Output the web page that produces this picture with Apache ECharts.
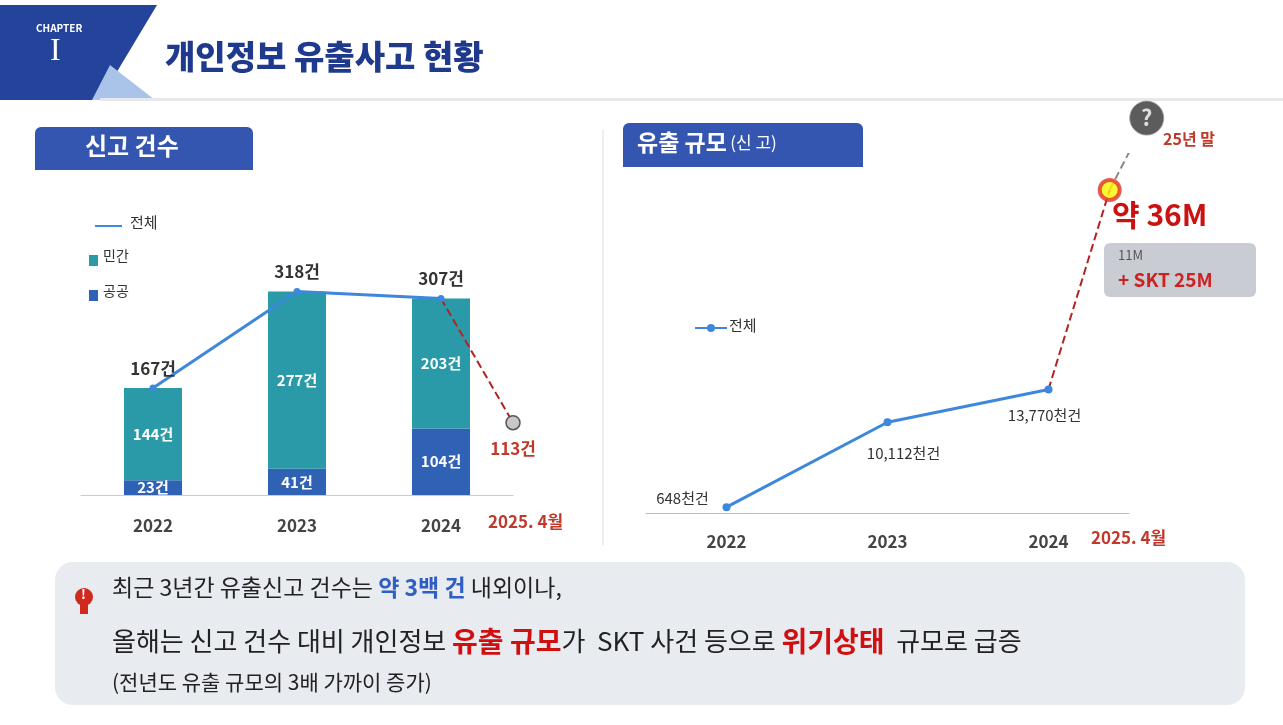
<!DOCTYPE html>
<html>
<head>
<meta charset="utf-8">
<title>개인정보 유출사고 현황</title>
<script src="https://cdn.jsdelivr.net/npm/echarts@6/dist/echarts.min.js"></script>
</head>
<body style="margin:0;padding:0;background:#fff;">
<div id="main" style="width:1283px;height:725px;"></div>
<script type="text/javascript">
// 신고 건수
var years = ['2022', '2023', '2024'];
var privateCnt = [144, 277, 203];   // 민간
var publicCnt = [23, 41, 104];      // 공공
var totalCnt = [167, 318, 307];     // 전체
var cnt2025 = 113;                  // 2025. 4월
// 유출 규모 (천건)
var leakSize = [648, 10112, 13770];
var leakLabels = ['648천건', '10,112천건', '13,770천건'];
var leak2025 = 36000;               // 약 36M
var leakEnd = 44000;                // 25년 말 (?)

var F = '"Noto Sans CJK KR", sans-serif';
var chart = echarts.init(document.getElementById('main'));

var option = {
    backgroundColor: '#fff',
    textStyle: { fontFamily: F },
    grid: [
        { left: 81, width: 432, top: 95, bottom: 230 },   // 왼쪽
        { left: 646, width: 483, top: 154, bottom: 212 }  // 오른쪽
    ],
    xAxis: [
        { type: 'category', data: years, gridIndex: 0,
          axisLine: { lineStyle: { color: '#ccc' } }, axisTick: { show: false },
          axisLabel: { color: '#444', fontSize: 17, fontWeight: 'bold', margin: 22, fontFamily: F } },
        { type: 'value', min: 0, max: 3, gridIndex: 0, show: false },
        { type: 'category', data: years, gridIndex: 1,
          axisLine: { lineStyle: { color: '#bbb' } }, axisTick: { show: false },
          axisLabel: { color: '#444', fontSize: 17, fontWeight: 'bold', margin: 20, fontFamily: F } },
        { type: 'value', min: 0, max: 3, gridIndex: 1, show: false }
    ],
    yAxis: [
        { type: 'value', min: 0, max: 625, gridIndex: 0, show: false },
        { type: 'value', min: 0, max: 40000, gridIndex: 1, show: false }
    ],
    series: [
        { name: '공공', type: 'bar', stack: 'a', data: publicCnt, barWidth: 58,
          itemStyle: { color: '#2f62b5' },
          label: { show: true, color: '#fff', fontSize: 15, fontWeight: 'bold', formatter: '{c}건' } },
        { name: '민간', type: 'bar', stack: 'a', data: privateCnt, barWidth: 58,
          itemStyle: { color: '#2a9aa9' },
          label: { show: true, color: '#fff', fontSize: 15, fontWeight: 'bold', formatter: '{c}건' } },
        { name: '전체', type: 'line', data: totalCnt, symbol: 'circle', symbolSize: 7,
          lineStyle: { color: '#3d88dc', width: 3 }, itemStyle: { color: '#3d88dc' },
          label: { show: true, position: 'top', distance: 8, color: '#333', fontSize: 17, fontWeight: 'bold', formatter: '{c}건' },
          z: 5 },
        { type: 'line', xAxisIndex: 1, data: [[2.5, totalCnt[2]], [3, cnt2025]], clip: false,
          symbol: 'circle', showSymbol: true,
          symbolSize: function (v, p) { return p.dataIndex === 1 ? 14 : 0; },
          lineStyle: { color: '#b22222', width: 2, type: 'dashed' },
          itemStyle: { color: '#c8c8c8', borderColor: '#555', borderWidth: 1.5 },
          label: { show: true, position: 'bottom', distance: 10, color: '#c0392b', fontSize: 17, fontWeight: 'bold',
                   formatter: function (p) { return p.dataIndex === 1 ? cnt2025 + '건' : ''; } },
          z: 4 },
        { name: '유출', type: 'line', xAxisIndex: 2, yAxisIndex: 1, data: leakSize,
          symbol: 'circle', symbolSize: 8,
          lineStyle: { color: '#3d88dc', width: 3 }, itemStyle: { color: '#3d88dc' },
          label: { show: true, color: '#333', fontSize: 15,
                   formatter: function (p) { return leakLabels[p.dataIndex]; } },
          labelLayout: function (p) {
              var off = [[-40, -12], [20, 28], [0, 22]][p.dataIndex];
              return { x: p.rect.x + off[0], y: p.rect.y + off[1], align: 'center' };
          } },
        { type: 'line', xAxisIndex: 3, yAxisIndex: 1, clip: false,
          data: [[2.5, leakSize[2]], [2.88, leak2025]], symbol: 'none',
          lineStyle: { color: '#b22222', width: 2, type: 'dashed' } },
        { type: 'line', xAxisIndex: 3, yAxisIndex: 1, clip: false,
          data: [[2.88, leak2025], [3.11, leakEnd]], symbol: 'none',
          lineStyle: { color: '#888', width: 2, type: 'dashed' } },
        { type: 'scatter', xAxisIndex: 3, yAxisIndex: 1, clip: false,
          data: [[2.88, leak2025]], symbolSize: 20,
          itemStyle: { color: '#fff200', borderColor: '#e0302a', borderWidth: 4 }, z: 10 },
        { type: 'scatter', xAxisIndex: 3, yAxisIndex: 1, clip: false,
          data: [[3.11, leakEnd]], symbolSize: 34,
          itemStyle: { color: '#333', borderColor: '#999', borderWidth: 1 },
          label: { show: true, position: 'inside', formatter: '?', color: '#fff', fontSize: 22, fontWeight: 'bold' }, z: 10 }
    ],
    graphic: [
        // 헤더
        { type: 'polygon', shape: { points: [[0, 5], [157, 5], [100, 100], [0, 100]] }, style: { fill: '#24439a' } },
        { type: 'polygon', shape: { points: [[110, 65], [155, 100], [92, 100]] }, style: { fill: '#a9c4e8' } },
        { type: 'text', left: 36, top: 23, style: { text: 'CHAPTER', fill: '#fff', font: 'bold 10px ' + F } },
        { type: 'text', left: 50, top: 36, style: { text: 'I', fill: '#fff', font: '32px serif' } },
        { type: 'text', left: 165, top: 40, style: { text: '개인정보 유출사고 현황', fill: '#1f3a8c', font: '900 33px ' + F } },
        { type: 'rect', shape: { x: 100, y: 98, width: 1183, height: 3 }, style: { fill: '#e6e8ec' } },
        // 섹션 탭
        { type: 'rect', shape: { x: 35, y: 127, width: 218, height: 43, r: [6, 6, 0, 0] }, style: { fill: '#3556b0' } },
        { type: 'text', left: 85, top: 134, style: { text: '신고 건수', fill: '#fff', font: 'bold 24px ' + F } },
        { type: 'rect', shape: { x: 623, y: 123, width: 240, height: 44, r: [6, 6, 0, 0] }, style: { fill: '#3556b0' } },
        { type: 'text', left: 637, top: 131, style: { rich: { a: { fill: '#fff', font: 'bold 23px ' + F }, b: { fill: '#fff', font: '17px ' + F } }, text: '{a|유출 규모} {b|(신 고)}' } },
        { type: 'rect', shape: { x: 602, y: 130, width: 2, height: 415 }, style: { fill: '#eceef1' } },
        // 왼쪽 범례
        { type: 'line', shape: { x1: 95, y1: 226, x2: 122, y2: 226 }, style: { stroke: '#3d88dc', lineWidth: 2 } },
        { type: 'text', left: 130, top: 215, style: { text: '전체', fill: '#333', font: '15px ' + F } },
        { type: 'rect', shape: { x: 89, y: 255, width: 9, height: 11 }, style: { fill: '#2a9aa9' } },
        { type: 'text', left: 103, top: 249, style: { text: '민간', fill: '#333', font: '14px ' + F } },
        { type: 'rect', shape: { x: 89, y: 290, width: 9, height: 11 }, style: { fill: '#2f62b5' } },
        { type: 'text', left: 103, top: 284, style: { text: '공공', fill: '#333', font: '14px ' + F } },
        { type: 'text', left: 488, top: 513, style: { text: '2025. 4월', fill: '#c0392b', font: 'bold 17px ' + F } },
        // 오른쪽
        { type: 'line', shape: { x1: 695, y1: 328, x2: 727, y2: 328 }, style: { stroke: '#3d88dc', lineWidth: 2 } },
        { type: 'circle', shape: { cx: 711, cy: 328, r: 4 }, style: { fill: '#3d88dc' } },
        { type: 'text', left: 729, top: 318, style: { text: '전체', fill: '#333', font: '15px ' + F } },
        { type: 'text', left: 1091, top: 529, style: { text: '2025. 4월', fill: '#c0392b', font: 'bold 17px ' + F } },
        { type: 'text', left: 1163, top: 131, style: { text: '25년 말', fill: '#c0392b', font: 'bold 16px ' + F } },
        { type: 'text', left: 1112, top: 200, style: { text: '약 36M', fill: '#cc1111', font: 'bold 30px ' + F } },
        { type: 'rect', shape: { x: 1104, y: 243, width: 152, height: 54, r: 6 }, style: { fill: '#c9ccd2' } },
        { type: 'text', left: 1118, top: 249, style: { text: '11M', fill: '#555', font: '13px ' + F } },
        { type: 'text', left: 1118, top: 270, style: { text: '+ SKT 25M', fill: '#cc2222', font: 'bold 19px ' + F } },
        // 하단 박스
        { type: 'rect', shape: { x: 55, y: 562, width: 1190, height: 143, r: 18 }, style: { fill: '#e8ebef' } },
        { type: 'circle', shape: { cx: 84, cy: 597, r: 9 }, style: { fill: '#d02a1e' } },
        { type: 'rect', shape: { x: 80, y: 605, width: 8, height: 9 }, style: { fill: '#d02a1e' } },
        { type: 'text', left: 81, top: 588, style: { text: '!', fill: '#fff', font: 'bold 13px ' + F } },
        { type: 'text', left: 112, top: 576, style: { rich: {
            n: { fill: '#222', font: '23px ' + F }, b: { fill: '#2f5fc4', font: 'bold 23px ' + F } },
            text: '{n|최근 3년간 유출신고 건수는 }{b|약 3백 건}{n| 내외이나,}' } },
        { type: 'text', left: 112, top: 627, style: { rich: {
            n: { fill: '#222', font: '26px ' + F }, r: { fill: '#d01010', font: 'bold 28px ' + F } },
            text: '{n|올해는 신고 건수 대비 개인정보 }{r|유출 규모}{n|가  SKT 사건 등으로 }{r|위기상태}{n|  규모로 급증}' } },
        { type: 'text', left: 112, top: 672, style: { text: '(전년도 유출 규모의 3배 가까이 증가)', fill: '#222', font: '21px ' + F } }
    ]
};
chart.setOption(option);
</script>
</body>
</html>
